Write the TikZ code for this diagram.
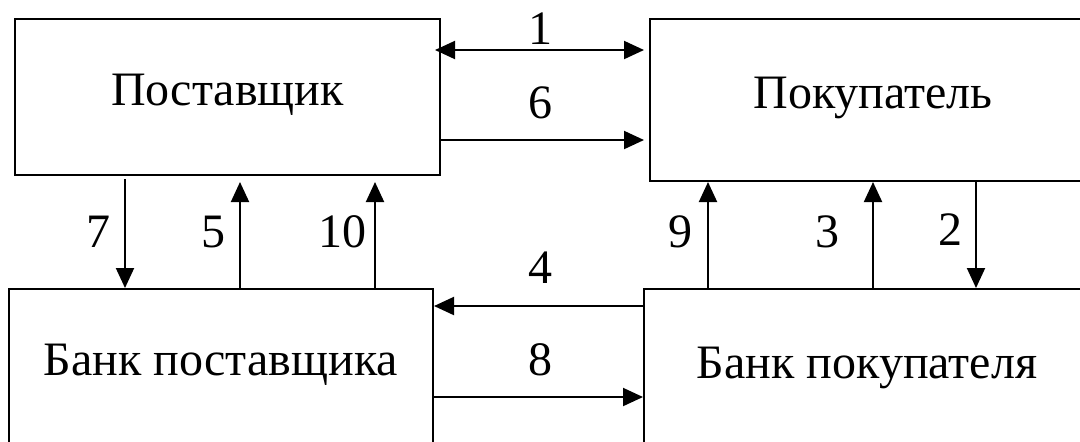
\documentclass[tikz,border=0pt]{standalone}
\usepackage{fontspec}
\setmainfont{Liberation Serif}
\usepackage{tikz}
\usetikzlibrary{arrows.meta,calc}
\tikzset{
  box/.style={draw, line width=1pt, inner sep=0pt, anchor=north west,
    text height=16pt, text depth=8pt, font=\fontsize{24}{28}\selectfont},
  num/.style={inner sep=0pt, font=\fontsize{24}{28}\selectfont},
  arr/.style={line width=1pt, ->},
}

\begin{document}
\begin{tikzpicture}[x=0.5pt, y=-0.5pt, >={Triangle[length=10pt,width=9pt]}]
\useasboundingbox (0,0) rectangle (1080,441);
\clip (0,0) rectangle (1080,441);

\node[box, minimum width=212.5pt, minimum height=78pt] (post) at (14,18) {Поставщик};
\node[box, minimum width=223pt, minimum height=81pt] (pokup) at (649,18) {Покупатель};
\node[box, minimum width=212pt, minimum height=78pt] (bankpost) at (8,288) {Банк поставщика};
\node[box, minimum width=223pt, minimum height=81pt] (bankpok) at (643,288) {Банк покупателя};

% horizontal
\draw[arr, <->] ([shift={(-3pt,-16pt)}]post.north east) -- ([shift={(-2.5pt,-16pt)}]post.north east -| pokup.west);
\draw[arr] ([yshift=-61pt]post.north east) -- ([shift={(-2.5pt,-61pt)}]post.north east -| pokup.west);
\draw[arr] ([yshift=-9pt]bankpok.north west) -- ([yshift=-9pt]bankpok.north west -| bankpost.east);
\draw[arr] ([yshift=-54.5pt]bankpost.north east) -- ([yshift=-54.5pt]bankpost.north east -| bankpok.west);

% vertical
\draw[arr, shorten <=1.5pt] ([xshift=55.5pt]post.south west) -- ([xshift=55.5pt]post.south west |- bankpost.north);
\draw[arr, shorten >=3pt] ([xshift=113pt]post.south west |- bankpost.north) -- ([xshift=113pt]post.south west);
\draw[arr, shorten >=3pt] ([xshift=180.5pt]post.south west |- bankpost.north) -- ([xshift=180.5pt]post.south west);
\draw[arr] ([xshift=29.5pt]pokup.south west |- bankpok.north) -- ([xshift=29.5pt]pokup.south west);
\draw[arr] ([xshift=112pt]pokup.south west |- bankpok.north) -- ([xshift=112pt]pokup.south west);
\draw[arr] ([xshift=163.5pt]pokup.south west) -- ([xshift=163.5pt]pokup.south west |- bankpok.north);

% numbers
\node[num] (n1) at (540,29) {1};
\node[num] (n6) at (540,103) {6};
\node[num] (n4) at (540,268) {4};
\node[num] (n8) at (540,360) {8};
\node[num] (n7) at (98,232) {7};
\node[num] (n5) at (213,232) {5};
\node[num] (n10) at (342,232) {10};
\node[num] (n9) at (680,232) {9};
\node[num] (n3) at (827,232) {3};
\node[num] (n2) at (950,230) {2};
\end{tikzpicture}
\end{document}
